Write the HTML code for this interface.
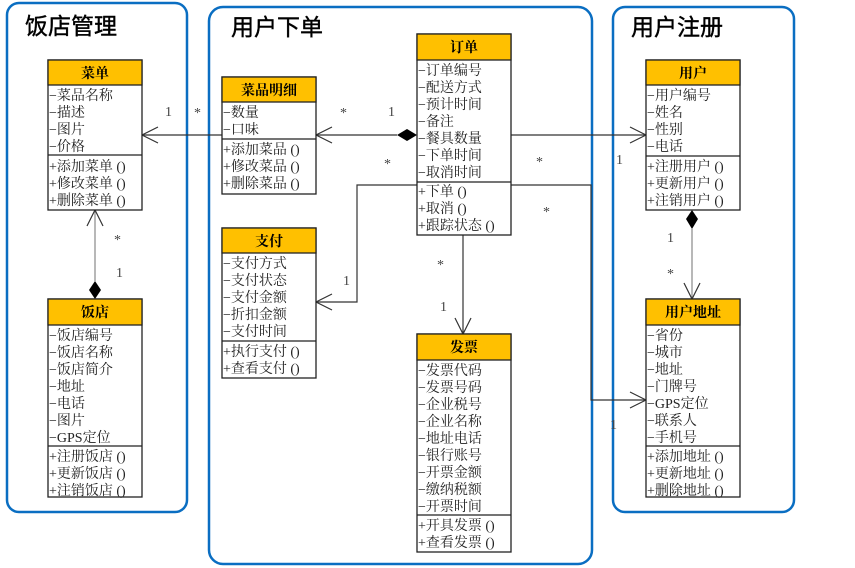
<!DOCTYPE html>
<html><head><meta charset="utf-8"><style>
html,body{margin:0;padding:0;background:#fff;}
svg{display:block;}
.t{font-family:"Liberation Sans","Noto Sans CJK SC",sans-serif;font-size:23px;fill:#000;stroke:#000;stroke-width:0.4;}
.h{font-family:"Liberation Serif","Noto Serif CJK SC",serif;font-size:14px;font-weight:bold;fill:#000;}
.a{font-family:"Liberation Serif","Noto Serif CJK SC",serif;font-size:14px;fill:#222;}
.m{font-family:"Liberation Serif","Noto Serif CJK SC",serif;font-size:14px;fill:#444;}
</style></head><body>
<svg width="855" height="568" viewBox="0 0 855 568" xmlns="http://www.w3.org/2000/svg">
<g fill="none" stroke="#0a6ec2" stroke-width="2.5">
<rect x="7" y="3" width="180" height="509" rx="12"/>
<rect x="209" y="7" width="383" height="557" rx="14"/>
<rect x="613" y="7" width="181" height="505" rx="12"/>
</g>
<text class="t" x="25" y="34">饭店管理</text>
<text class="t" x="231" y="35">用户下单</text>
<text class="t" x="631" y="35">用户注册</text>

<g fill="none" stroke="#333" stroke-width="1.2">
<line x1="222" y1="135" x2="142" y2="135"/>
<polyline points="158,127 142,135 158,143"/>
<line x1="397" y1="135" x2="316" y2="135"/>
<polyline points="332,127 316,135 332,143"/>
<line x1="95" y1="281" x2="95" y2="210" stroke="#888"/>
<polyline points="87,226 95,210 103,226"/>
<polyline points="417,185 357,185 357,302 316,302"/>
<polyline points="332,294 316,302 332,310"/>
<line x1="463" y1="235" x2="463" y2="334"/>
<polyline points="455,318 463,334 471,318"/>
<line x1="511" y1="135" x2="646" y2="135"/>
<polyline points="630,127 646,135 630,143"/>
<polyline points="511,185 591,185 591,400 646,400"/>
<polyline points="630,392 646,400 630,408"/>
<line x1="692" y1="229" x2="692" y2="299" stroke="#888"/>
<polyline points="684,283 692,299 700,283"/>
</g>
<g fill="#000">
<polygon points="417,135 407,129 397,135 407,141"/>
<polygon points="95,299 89,290 95,281 101,290"/>
<polygon points="692,210 686,219 692,229 698,219"/>
</g>
<g class="m">
<text x="165" y="116">1</text><text x="194" y="117">*</text>
<text x="340" y="117">*</text><text x="388" y="116">1</text><text x="384" y="168">*</text>
<text x="114" y="244">*</text><text x="116" y="277">1</text>
<text x="343" y="285">1</text>
<text x="437" y="269">*</text><text x="440" y="311">1</text>
<text x="536" y="166">*</text><text x="543" y="216">*</text>
<text x="616" y="164">1</text><text x="610" y="429">1</text>
<text x="667" y="242">1</text><text x="667" y="278">*</text>
</g>

<g stroke="#222" stroke-width="1.3">
<rect x="48" y="60" width="94" height="150" fill="#fff"/><rect x="48" y="60" width="94" height="25" fill="#ffc000"/><line x1="48" y1="155" x2="142" y2="155"/>
<rect x="48" y="299" width="94" height="198" fill="#fff"/><rect x="48" y="299" width="94" height="26" fill="#ffc000"/><line x1="48" y1="446" x2="142" y2="446"/>
<rect x="222" y="77" width="94" height="117" fill="#fff"/><rect x="222" y="77" width="94" height="25" fill="#ffc000"/><line x1="222" y1="139" x2="316" y2="139"/>
<rect x="222" y="228" width="94" height="150" fill="#fff"/><rect x="222" y="228" width="94" height="25" fill="#ffc000"/><line x1="222" y1="341" x2="316" y2="341"/>
<rect x="417" y="34" width="94" height="201" fill="#fff"/><rect x="417" y="34" width="94" height="26" fill="#ffc000"/><line x1="417" y1="182" x2="511" y2="182"/>
<rect x="417" y="334" width="94" height="218" fill="#fff"/><rect x="417" y="334" width="94" height="26" fill="#ffc000"/><line x1="417" y1="515" x2="511" y2="515"/>
<rect x="646" y="60" width="94" height="150" fill="#fff"/><rect x="646" y="60" width="94" height="25" fill="#ffc000"/><line x1="646" y1="156" x2="740" y2="156"/>
<rect x="646" y="299" width="94" height="198" fill="#fff"/><rect x="646" y="299" width="94" height="26" fill="#ffc000"/><line x1="646" y1="446" x2="740" y2="446"/>
</g>
<g class="h" text-anchor="middle">
<text x="95" y="78">菜单</text><text x="95" y="317">饭店</text>
<text x="269" y="95">菜品明细</text><text x="269" y="246">支付</text>
<text x="464" y="52">订单</text><text x="464" y="352">发票</text>
<text x="693" y="78">用户</text><text x="693" y="317">用户地址</text>
</g>
<g class="a">
<text x="49" y="100">−菜品名称</text><text x="49" y="117">−描述</text><text x="49" y="134">−图片</text><text x="49" y="151">−价格</text>
<text x="49" y="171">+添加菜单 ()</text><text x="49" y="188">+修改菜单 ()</text><text x="49" y="205">+删除菜单 ()</text>

<text x="49" y="340">−饭店编号</text><text x="49" y="357">−饭店名称</text><text x="49" y="374">−饭店简介</text><text x="49" y="391">−地址</text><text x="49" y="408">−电话</text><text x="49" y="425">−图片</text><text x="49" y="442">−GPS定位</text>
<text x="49" y="461">+注册饭店 ()</text><text x="49" y="478">+更新饭店 ()</text><text x="49" y="495">+注销饭店 ()</text>

<text x="223" y="117">−数量</text><text x="223" y="134">−口味</text>
<text x="223" y="154">+添加菜品 ()</text><text x="223" y="171">+修改菜品 ()</text><text x="223" y="188">+删除菜品 ()</text>

<text x="223" y="268">−支付方式</text><text x="223" y="285">−支付状态</text><text x="223" y="302">−支付金额</text><text x="223" y="319">−折扣金额</text><text x="223" y="336">−支付时间</text>
<text x="223" y="356">+执行支付 ()</text><text x="223" y="373">+查看支付 ()</text>

<text x="418" y="75">−订单编号</text><text x="418" y="92">−配送方式</text><text x="418" y="109">−预计时间</text><text x="418" y="126">−备注</text><text x="418" y="143">−餐具数量</text><text x="418" y="160">−下单时间</text><text x="418" y="177">−取消时间</text>
<text x="418" y="196">+下单 ()</text><text x="418" y="213">+取消 ()</text><text x="418" y="230">+跟踪状态 ()</text>

<text x="418" y="375">−发票代码</text><text x="418" y="392">−发票号码</text><text x="418" y="409">−企业税号</text><text x="418" y="426">−企业名称</text><text x="418" y="443">−地址电话</text><text x="418" y="460">−银行账号</text><text x="418" y="477">−开票金额</text><text x="418" y="494">−缴纳税额</text><text x="418" y="511">−开票时间</text>
<text x="418" y="530">+开具发票 ()</text><text x="418" y="547">+查看发票 ()</text>

<text x="647" y="100">−用户编号</text><text x="647" y="117">−姓名</text><text x="647" y="134">−性别</text><text x="647" y="151">−电话</text>
<text x="647" y="171">+注册用户 ()</text><text x="647" y="188">+更新用户 ()</text><text x="647" y="205">+注销用户 ()</text>

<text x="647" y="340">−省份</text><text x="647" y="357">−城市</text><text x="647" y="374">−地址</text><text x="647" y="391">−门牌号</text><text x="647" y="408">−GPS定位</text><text x="647" y="425">−联系人</text><text x="647" y="442">−手机号</text>
<text x="647" y="461">+添加地址 ()</text><text x="647" y="478">+更新地址 ()</text><text x="647" y="495">+删除地址 ()</text>
</g>
</svg>
</body></html>
